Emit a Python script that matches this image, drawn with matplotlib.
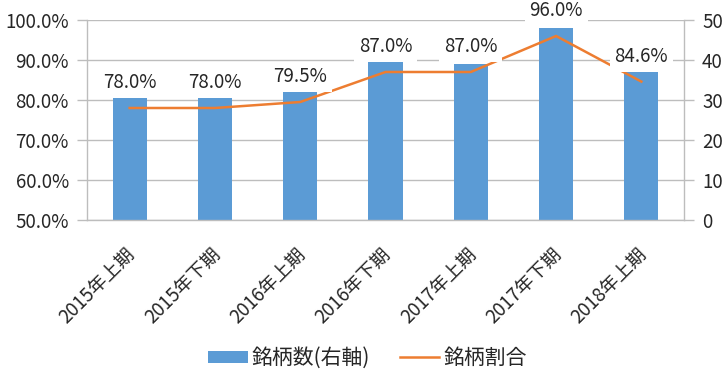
import matplotlib
matplotlib.use("Agg")
import matplotlib.pyplot as plt
import numpy as np
from matplotlib.ticker import FuncFormatter, FixedLocator
from matplotlib.patches import Patch
from matplotlib.lines import Line2D
import matplotlib.transforms as mtransforms

plt.rcParams['font.family'] = ['Noto Sans CJK JP', 'DejaVu Sans']

categories = ["2015年上期", "2015年下期", "2016年上期", "2016年下期",
              "2017年上期", "2017年下期", "2018年上期"]
counts = [31, 31, 32, 40, 39, 48, 37]          # 銘柄数(右軸)
ratio = [78.0, 78.0, 79.5, 87.0, 87.0, 96.0, 84.6]  # 銘柄割合 (%)
left_ticks = [50, 60, 70, 80, 90, 100]
right_ticks = [0, 10, 20, 30, 40, 50]

BLUE = '#5B9BD5'
ORANGE = '#ED7D31'
GRID = '#BDBDBD'
TXT = '#262626'
FS_DATA = 13.5
FS_TICK = 13.5
FS_X = 13.5
FS_LEG = 15

fig = plt.figure(figsize=(7.28, 3.73), dpi=100)
ax2 = fig.add_axes([87/728, 1-220/373, (684-87)/728, 200/373])
ax = ax2.twinx()
ax.set_zorder(ax2.get_zorder() + 1)
ax.patch.set_visible(False)

x = np.arange(len(categories))

# bars (right axis)
ax2.bar(x, counts, width=0.4, color=BLUE, zorder=2)
ax2.set_ylim(0, 50)
ax2.set_yticks(right_ticks)
ax2.yaxis.grid(True, color=GRID, linewidth=1.0, zorder=0)
ax2.set_axisbelow(True)
ax2.yaxis.tick_right()
ax2.yaxis.set_label_position('right')

# line (left axis)
ax.plot(x, ratio, color=ORANGE, linewidth=1.8, zorder=3, solid_joinstyle='miter')
ax.set_ylim(50, 100)
ax.set_yticks(left_ticks)
ax.yaxis.tick_left()
ax.yaxis.set_major_formatter(FuncFormatter(lambda v, p: f"{v:.1f}%"))
for xi, v in zip(x, ratio):
    ax.annotate(f"{v:.1f}%", (xi, v), xytext=(0, 25), textcoords='offset pixels',
                ha='center', va='center', fontsize=FS_DATA, color=TXT, zorder=5,
                bbox=dict(boxstyle='square,pad=0.25', fc='white', ec='none'))

for a in (ax, ax2):
    a.set_xlim(-0.5, len(categories) - 0.5)
    for s in a.spines.values():
        s.set_visible(False)

for s in ('left', 'right', 'bottom'):
    ax2.spines[s].set_visible(True)
    ax2.spines[s].set_color(GRID)
    ax2.spines[s].set_linewidth(1.0)

# x ticks: boundaries with marks, centers with labels
ax2.xaxis.set_major_locator(FixedLocator(np.arange(-0.5, len(categories), 1.0)))
ax2.xaxis.set_minor_locator(FixedLocator(x))
ax2.set_xticklabels([], minor=False)
ax2.set_xticklabels(categories, minor=True, rotation=45, ha='right',
                    rotation_mode='anchor', fontsize=FS_X, color=TXT)
ax2.tick_params(axis='x', which='major', direction='out', length=7, color=GRID, width=1)
ax2.tick_params(axis='x', which='minor', length=0, pad=17)
shift = mtransforms.ScaledTranslation(-5/100, 0, fig.dpi_scale_trans)
for lbl in ax2.get_xticklabels(minor=True):
    lbl.set_transform(lbl.get_transform() + shift)
ax.set_xticks([])

ax2.tick_params(axis='y', direction='out', length=7, color=GRID, width=1,
                labelsize=FS_TICK, labelcolor=TXT, pad=6)
ax.tick_params(axis='y', direction='out', length=7, color=GRID, width=1,
               labelsize=FS_TICK, labelcolor=TXT, pad=6)

handles = [Patch(facecolor=BLUE, edgecolor='none', label='銘柄数(右軸)'),
           Line2D([0], [0], color=ORANGE, linewidth=1.8, label='銘柄割合')]
fig.legend(handles=handles, loc='center', bbox_to_anchor=(367.5/728, 1-358/373), ncol=2,
           frameon=False, fontsize=FS_LEG, handlelength=1.9, handleheight=0.5,
           columnspacing=1.4, handletextpad=0.2, labelcolor=TXT,
           borderpad=0, borderaxespad=0)

fig.savefig('out.png', dpi=100)
